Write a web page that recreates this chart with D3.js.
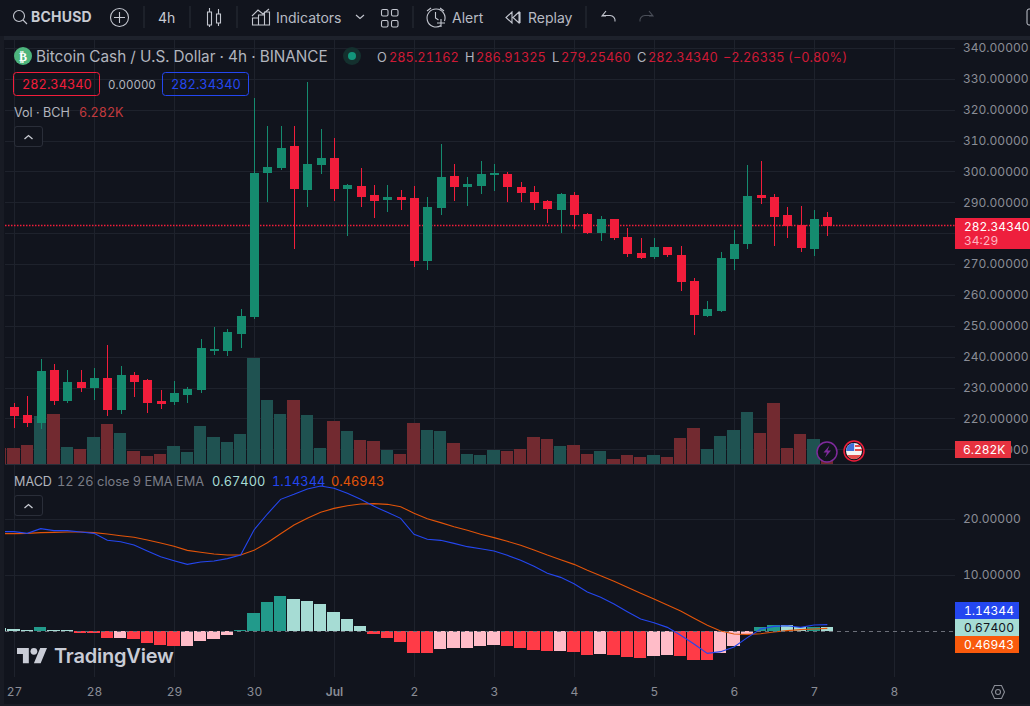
<!DOCTYPE html>
<html><head><meta charset="utf-8">
<script src="https://cdn.jsdelivr.net/npm/d3@7"></script>
<style>
html,body{margin:0;padding:0;background:#11141d;overflow:hidden}
svg{display:block}
text{font-family:Inter,"Noto Sans",sans-serif;font-variant-numeric:tabular-nums;-webkit-font-smoothing:antialiased}
</style></head><body><div id="chart"></div>
<script>
// ---- data ----
const open  = [223.7,221.1,218.5,235.7,225.6,231.8,230.0,233.1,222.7,234.1,232.5,225.6,225.3,227.6,229.2,241.8,241.8,247.3,252.9,299.5,301.1,308.2,294.0,302.1,304.4,294.3,295.3,292.4,290.8,291.7,291.4,271.0,288.2,298.5,295.0,295.3,298.9,299.2,295.0,293.4,290.4,287.5,292.4,286.2,280.1,284.6,278.8,273.6,272.3,275.5,272.9,264.5,253.2,254.8,271.6,276.5,292.4,291.7,285.9,282.7,274.9,285.21];
const high  = [224.9,227.3,239.1,237.6,235.7,235.7,236.3,243.8,237.0,235.0,232.8,229.2,232.1,230.2,245.7,249.6,249.0,255.4,323.8,314.7,314.7,314.7,329.0,313.8,310.8,295.9,301.1,295.6,295.6,294.0,295.3,291.7,308.9,302.4,298.2,303.4,302.4,299.8,296.6,295.3,290.8,293.0,293.4,286.6,285.6,284.6,281.7,278.5,278.5,275.5,275.9,265.5,258.0,273.9,281.0,302.1,303.4,292.7,288.5,288.8,287.5,286.91];
const low   = [217.0,217.3,216.7,224.3,225.1,228.6,226.0,220.9,221.5,226.9,221.8,223.1,224.3,225.0,228.2,240.5,240.2,242.8,252.2,290.1,300.5,274.9,288.5,299.2,290.4,279.1,288.5,284.9,286.9,287.5,269.1,268.1,285.9,290.4,288.8,292.7,293.7,290.1,290.1,287.5,283.3,280.1,281.4,279.8,277.5,277.8,272.3,271.7,271.7,272.3,261.3,247.0,252.9,254.5,268.1,274.9,289.5,275.9,278.4,273.9,272.6,279.25];
const close = [220.9,218.5,235.4,225.6,231.8,230.0,233.1,222.7,234.1,231.8,225.0,224.7,228.2,229.5,242.8,242.5,248.0,253.2,299.5,301.4,307.6,294.3,302.4,304.4,294.3,295.6,291.7,290.4,291.7,290.8,271.0,288.5,298.2,295.0,295.9,299.2,299.5,295.0,293.0,289.8,287.9,292.7,285.9,280.1,284.6,278.5,273.3,272.0,275.5,272.9,264.2,253.5,255.4,272.0,276.5,292.1,291.4,285.3,282.3,275.2,284.6,282.34];
// thousands of BCH; first entries below belong to the bar clipped at the left edge (index -1)
const volume = [40,40,47.5,120,125,42.5,37.5,67.5,100,77.5,32.5,20,25,45,30,95,67.5,55,75,265,160,125,160,122.5,40,107.5,82.5,60,57.5,35,25,102.5,85,82.5,52.5,25,22.5,35,32.5,37.5,67.5,62.5,45,47.5,25,32.5,12.5,22.5,17.5,22.5,17.5,65,90,37.5,70,85,130,77.5,152.5,40,75,62.5,6.282];
const hist = [0.5,0.36,0.1,0.7,0.2,0.2,-0.35,-0.3,-1.25,-1.25,-1.45,-2.15,-2.5,-2.7,-2.7,-1.8,-1.45,-0.7,0.1,3.2,5.2,6.25,5.7,5.35,4.8,3.4,2.15,0.9,-0.55,-1.25,-1.95,-3.9,-3.9,-3.2,-3.05,-3.05,-2.7,-2.5,-2.7,-3.05,-3.4,-3.55,-3.55,-3.75,-4.3,-4.1,-4.3,-4.65,-4.8,-4.45,-4.3,-4.45,-5.2,-5.2,-3.9,-2.7,-0.5,0.7,1.05,1.05,0.7,0.7,0.674];
const histShade = "llldllDDDLDDDDLLLLddddllllllDDDDDLLLLLDDDDLDDLDDDLLDDDLLLddlldl".split("");
const macdLine = [17.74,17.74,17.44,18.27,17.92,17.92,17.68,17.44,16.19,15.95,15.36,14.29,13.27,12.56,11.90,12.32,12.50,12.92,13.57,18.04,20.89,23.51,24.40,25.36,25.89,25.48,24.58,23.51,22.26,21.19,20.12,17.26,16.37,16.19,15.65,15.06,14.70,14.29,13.51,12.62,11.55,10.30,9.58,8.45,6.96,6.01,4.82,3.45,2.14,1.49,0.65,-0.77,-2.32,-3.99,-3.69,-2.86,-1.19,0.36,0.83,0.95,0.65,1.07,1.14344];
const signalLine = [17.38,17.38,17.44,17.56,17.62,17.68,17.68,17.56,17.32,17.02,16.73,16.25,15.71,15.12,14.40,14.05,13.75,13.57,13.57,14.40,15.77,17.38,18.93,20.12,21.19,21.90,22.38,22.68,22.74,22.62,22.20,21.01,20.06,19.35,18.63,17.98,17.26,16.67,16.01,15.30,14.46,13.57,12.74,11.90,10.83,9.88,8.87,7.80,6.73,5.71,4.64,3.57,2.26,1.01,0,-0.54,-0.60,-0.48,-0.18,0.06,0.24,0.36,0.46943];
const priceTicks = [340,330,320,310,300,290,280,270,260,250,240,230,220,210];
const macdTicks = [20,10];
const dayTicks = [0,6,12,18,24,30,36,42,48,54,60,66];
const dayLabels = ["27","28","29","30","Jul","2","3","4","5","6","7","8"];
const lastPrice = 282.34340;
const toolbarLabels = ["BCHUSD","4h","Indicators","Alert","Replay"];

// ---- colours ----
const BG="#11141d", GRID="#1e222c", UP="#158b6f", DOWN="#f21d3b", VUP="#1f5251", VDOWN="#722a30";
const AXIS="#8a8d96", TXT="#b2b5be", BLUE="#2447f0", ORANGE="#e25409", MINT="#a6dcd4";
const shadeColor = {d:"#229a8b",l:"#a6dcd4",D:"#ff3b47",L:"#ffbcc8"};

const W=1030,H=706;
const svg=d3.select("#chart").append("svg").attr("width",W).attr("height",H).attr("viewBox",[0,0,W,H]);
svg.append("rect").attr("width",W).attr("height",H).attr("fill",BG);
const defs=svg.append("defs");
defs.append("clipPath").attr("id","plot").append("rect").attr("x",5).attr("y",40).attr("width",950).attr("height",637);

const x=d3.scaleLinear().domain([0,60]).range([14,814]);
const y=d3.scaleLinear().domain([340,210]).range([48,449.3]);
const yVol=d3.scaleLinear().domain([0,265]).range([464,358]);
const yM=d3.scaleLinear().domain([0,20]).range([631,519]);
const px=i=>Math.round(x(i));
const barX0=i=>Math.round(x(i)-6.67), barW=i=>Math.round(x(i+1)-6.67)-1-barX0(i);

// ---- axes / grid ----
function styleAxis(g){
  g.select(".domain").remove();
  g.selectAll(".tick line").attr("stroke",GRID).attr("stroke-width",1).attr("shape-rendering","crispEdges");
  g.selectAll(".tick text").attr("fill",AXIS).attr("font-size",12).style("font-family","Inter,sans-serif");
}
svg.append("g").attr("transform","translate(0,677)")
  .call(d3.axisBottom(x).tickValues(dayTicks).tickSize(-637).tickPadding(10.5).tickFormat((d,i)=>dayLabels[i]))
  .call(styleAxis)
  .call(g=>g.selectAll(".tick text").filter(d=>d===24).attr("font-weight",600));
svg.append("g").attr("transform","translate(955,0)")
  .call(d3.axisRight(y).tickValues(priceTicks).tickSize(-950).tickPadding(8).tickFormat(d=>d===280?"":d3.format(".5f")(d))).call(styleAxis);
svg.append("g").attr("transform","translate(955,0)")
  .call(d3.axisRight(yM).tickValues(macdTicks).tickSize(-950).tickPadding(8).tickFormat(d3.format(".5f"))).call(styleAxis);

// pane separators and frame
const frame=svg.append("g");
frame.append("rect").attr("x",0).attr("y",36).attr("width",W).attr("height",4).attr("fill","#1e222c");
frame.append("rect").attr("x",0).attr("y",36).attr("width",4).attr("height",H-36).attr("fill","#181b24");
frame.append("rect").attr("x",5).attr("y",464).attr("width",950).attr("height",1).attr("fill","#2a2e39");
frame.append("rect").attr("x",955).attr("y",464).attr("width",75).attr("height",1).attr("fill","#2a2e39");
frame.append("rect").attr("x",0).attr("y",704).attr("width",W).attr("height",2).attr("fill","#181b24");

const plot=svg.append("g").attr("clip-path","url(#plot)");

// volume
plot.append("g").selectAll("rect").data(volume).join("rect")
  .attr("x",(d,i)=>barX0(i-1)).attr("width",(d,i)=>barW(i-1))
  .attr("y",d=>yVol(d)).attr("height",d=>yVol(0)-yVol(d))
  .attr("fill",(d,i)=>{const k=i-1; return k<0?VDOWN:(close[k]>=open[k]?VUP:VDOWN);})
  .attr("shape-rendering","crispEdges");

// last price line
plot.append("line").attr("x1",5).attr("x2",955).attr("y1",Math.floor(y(lastPrice))+.5).attr("y2",Math.floor(y(lastPrice))+.5)
  .attr("stroke",DOWN).attr("stroke-width",1.4).attr("stroke-dasharray","1.5 1.5");

// candles
const cGroup=plot.append("g").attr("shape-rendering","crispEdges");
cGroup.selectAll(".wick").data(close).join("rect").attr("class","wick")
  .attr("x",(d,i)=>px(i)).attr("width",1)
  .attr("y",(d,i)=>y(high[i])).attr("height",(d,i)=>y(low[i])-y(high[i]))
  .attr("fill",(d,i)=>d>=open[i]?UP:DOWN);
cGroup.selectAll(".body").data(close).join("rect").attr("class","body")
  .attr("x",(d,i)=>px(i)-4).attr("width",9)
  .attr("y",(d,i)=>y(Math.max(d,open[i])))
  .attr("height",(d,i)=>Math.max(1,Math.abs(y(d)-y(open[i]))))
  .attr("fill",(d,i)=>d>=open[i]?UP:DOWN);

// histogram
plot.append("g").selectAll("rect").data(hist).join("rect")
  .attr("x",(d,i)=>barX0(i-1)).attr("width",(d,i)=>barW(i-1))
  .attr("y",d=>Math.min(yM(d),yM(0))).attr("height",d=>Math.abs(yM(d)-yM(0)))
  .attr("fill",(d,i)=>shadeColor[histShade[i]])
  .attr("shape-rendering","crispEdges");

// MACD zero line
svg.append("line").attr("x1",5).attr("x2",955).attr("y1",yM(0)+.5).attr("y2",yM(0)+.5)
  .attr("stroke","#6b6e78").attr("stroke-width",1).attr("stroke-dasharray","4 4").attr("shape-rendering","crispEdges");

// MACD lines
const lineGen=d3.line().x((d,i)=>x(i-1)).y(d=>yM(d));
plot.append("path").datum(signalLine).attr("d",lineGen).attr("fill","none").attr("stroke",ORANGE).attr("stroke-width",1.1);
plot.append("path").datum(macdLine).attr("d",lineGen).attr("fill","none").attr("stroke",BLUE).attr("stroke-width",1.1);

// text helper
function T(s,xp,yp,fill,size,opt={}){
  const t=svg.append("text").attr("x",xp).attr("y",yp).attr("fill",fill).attr("font-size",size).text(s);
  if(opt.w)t.attr("font-weight",opt.w);
  if(opt.ls!==undefined)t.attr("letter-spacing",opt.ls);
  if(opt.a)t.attr("text-anchor",opt.a);
  return t;
}
// ---- toolbar ----
const ICON="#c4c7d0", SEP="#2a2e39";
const ic=svg.append("g").attr("fill","none").attr("stroke",ICON).attr("stroke-width",1.1);
ic.append("circle").attr("cx",19).attr("cy",16).attr("r",5.5);
ic.append("path").attr("d","M23 20l4 4");
T(toolbarLabels[0],31,22,"#c8cbd3",14,{w:700,ls:0.2});
ic.append("circle").attr("cx",119.5).attr("cy",17.5).attr("r",9);
ic.append("path").attr("d","M119.5 12v11M114 17.5h11");
[143.5,189.5,236.5,412.5,585.5].forEach(s=>svg.append("rect").attr("x",s).attr("y",6).attr("width",1).attr("height",22).attr("fill",SEP));
T(toolbarLabels[1],158,23,"#c8cbd3",14);
ic.append("path").attr("d","M207.5 12h4v13h-4zM209.5 8v4M209.5 25v2M216.5 14h4v9h-4zM218.5 9v5M218.5 23v3");
ic.append("path").attr("d","M252.5 25h6v-7h-6zM258.5 25h6v-10h-6zM264.5 25h5v-13h-5zM252 16l6-6 5 4 6-5");
T(toolbarLabels[2],276,23,"#b8bbc4",14);
ic.append("path").attr("d","M356 15l4 3.5 4-3.5");
[[381,9],[391,9],[381,20],[391,20]].forEach(p=>ic.append("rect").attr("x",p[0]+0.5).attr("y",p[1]+0.5).attr("width",6.5).attr("height",6.5).attr("rx",1.5));
ic.append("path").attr("d","M441 25.5a9 9 0 1 1 3.5-4.5M435.5 12v6l3 2M427 11l4-3M444 11l-4-3M441 19v8M437 23h8");
T(toolbarLabels[3],452,23,"#b8bbc4",14);
ic.append("path").attr("d","M512 12l-6 5.5 6 5.5zM519 12l-6 5.5 6 5.5zM520 12v11");
T(toolbarLabels[4],528,23,"#b8bbc4",14);
ic.append("path").attr("d","M606 11l-4 5 4 0M602 15.5h8a5 5 0 0 1 5 6");
svg.append("path").attr("d","M649 11l4 5-4 0M653 15.5h-8a5 5 0 0 0-5 6").attr("fill","none").attr("stroke","#4a4e58").attr("stroke-width",1.1);
svg.append("rect").attr("x",1027).attr("y",9).attr("width",6).attr("height",16).attr("rx",2).attr("fill","none").attr("stroke",ICON);

// ---- header legend ----
svg.append("circle").attr("cx",23).attr("cy",56).attr("r",9).attr("fill","#4db57d");
T("₿",23,60.5,"#fff",12,{w:700,a:"middle"}).style("font-family","DejaVu Sans");
T("Bitcoin Cash / U.S. Dollar · 4h · BINANCE",36,62,TXT,15.3);
svg.append("circle").attr("cx",352).attr("cy",56).attr("r",9).attr("fill","#14302e");
svg.append("circle").attr("cx",352).attr("cy",56).attr("r",4).attr("fill","#12957a");
const LEG="#ce1a36";
[["O",377,"285.21162",389],["H",465,"286.91325",476],["L",552,"279.25460",561],["C",637,"282.34340",648]].forEach(r=>{
  T(r[0],r[1],62,TXT,12.8); T(r[2],r[3],62,LEG,12.8);
});
T("−2.26335 (−0.80%)",723,62,LEG,12.8);
svg.append("rect").attr("x",13.5).attr("y",72.5).attr("width",86).attr("height",23).attr("rx",3).attr("fill","none").attr("stroke",DOWN);
T("282.34340",22,89,DOWN,12.8);
T("0.00000",108,89,TXT,11.5);
svg.append("rect").attr("x",162.5).attr("y",72.5).attr("width",86).attr("height",23).attr("rx",3).attr("fill","none").attr("stroke",BLUE);
T("282.34340",171,89,BLUE,12.8);
T("Vol · BCH",14,117,TXT,12.6);
T("6.282K",79,117,"#c23a3e",12.6);
function collapse(yTop){
  svg.append("rect").attr("x",14.5).attr("y",yTop+0.5).attr("width",28).attr("height",20).attr("rx",2.5).attr("fill",BG).attr("stroke","#2a2e39");
  svg.append("path").attr("d",`M24.5 ${yTop+13}l4-3.5 4 3.5`).attr("fill","none").attr("stroke","#c8cbd3").attr("stroke-width",1.3);
}
collapse(126);

// MACD legend
T("MACD",14,486,TXT,12.6);
T("12 26 close 9 EMA EMA",57,486,"#797c86",12.8);
T("0.67400",212,486,MINT,12.8);
T("1.14344",272,486,BLUE,12.8);
T("0.46943",331,486,ORANGE,12.8);
collapse(495);

// ---- event icons ----
svg.append("circle").attr("cx",827).attr("cy",452).attr("r",10).attr("fill",BG).attr("stroke","#7f2a9c").attr("stroke-width",1.5);
svg.append("path").attr("d","M829.5 445.5l-6 7h3.5l-2 5 6-7h-3.5z").attr("fill","#7f2a9c");
svg.append("circle").attr("cx",854).attr("cy",451).attr("r",10).attr("fill",BG).attr("stroke",DOWN).attr("stroke-width",1.5);
svg.append("circle").attr("cx",854).attr("cy",451).attr("r",8).attr("fill","#f4f4f4");
svg.append("path").attr("d","M847 455h14a8 8 0 0 1-14 0zM855 449h7v2h-7zM855 445h5v2h-5z").attr("fill","#e24b4b");
svg.append("path").attr("d","M846.2 451a8 8 0 0 1 8-8v8z").attr("fill","#3f6fd8");

// ---- price tags ----
svg.append("rect").attr("x",955).attr("y",218).attr("width",75).attr("height",31).attr("fill","#ee1f3d");
T("282.34340",964,231,"#fff",12);
T("34:29",964,245,"#ffb4c0",12);
svg.append("rect").attr("x",955).attr("y",441).attr("width",56).attr("height",17).attr("fill","#e6323f");
T("6.282K",963,454,"#fff",12);
svg.append("rect").attr("x",955).attr("y",602).attr("width",64).attr("height",17).attr("fill",BLUE);
T("1.14344",964,615,"#fff",12);
svg.append("rect").attr("x",955).attr("y",619).attr("width",64).attr("height",17).attr("fill",MINT);
T("0.67400",964,632,"#10131c",12);
svg.append("rect").attr("x",955).attr("y",636).attr("width",64).attr("height",17).attr("fill","#f95a0c");
T("0.46943",964,649,"#fff",12);

// ---- TradingView watermark ----
const logo=svg.append("g").attr("transform","translate(17,644.6) scale(0.845)").attr("fill","#c9ccd6");
logo.append("path").attr("d","M14 22H7V11H0V4h14v18zM28 22h-8l7.5-18h8L28 22z");
logo.append("circle").attr("cx",20).attr("cy",8).attr("r",4);
T("TradingView",54,663,"#c9ccd6",20,{w:600,ls:-0.2});

// settings
svg.append("path").attr("d","M991.5 692l3-6.5h7l3 6.5-3 6.5h-7z").attr("fill","none").attr("stroke",AXIS).attr("stroke-width",1.1);
svg.append("circle").attr("cx",998).attr("cy",692).attr("r",2.5).attr("fill","none").attr("stroke",AXIS).attr("stroke-width",1.1);
</script></body></html>
